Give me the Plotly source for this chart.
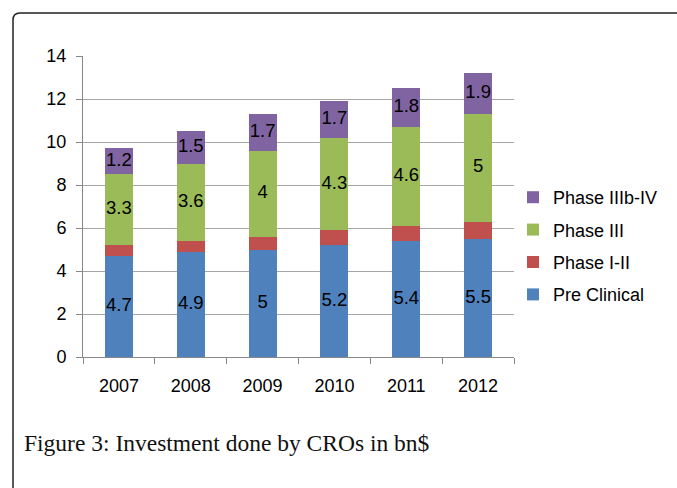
import plotly.graph_objects as go

years = ["2007", "2008", "2009", "2010", "2011", "2012"]
pre_clinical = [4.7, 4.9, 5.0, 5.2, 5.4, 5.5]
phase_1_2 = [0.5, 0.5, 0.6, 0.7, 0.7, 0.8]
phase_3 = [3.3, 3.6, 4.0, 4.3, 4.6, 5.0]
phase_3b_4 = [1.2, 1.5, 1.7, 1.7, 1.8, 1.9]

series = [
    ("Pre Clinical", pre_clinical, "#4F81BD", True),
    ("Phase I-II", phase_1_2, "#C0504D", False),
    ("Phase III", phase_3, "#9BBB59", True),
    ("Phase IIIb-IV", phase_3b_4, "#8064A2", True),
]

FONT = "Liberation Sans, Arial, sans-serif"
fig = go.Figure()
base = [0.0] * len(years)
label_x, label_y, label_t = [], [], []
for i, (name, vals, color, labelled) in enumerate(series):
    fig.add_trace(go.Bar(
        x=years, y=vals, name=name, marker=dict(color=color, line=dict(width=0)),
        legendgroup=f"g{i}", legendrank=len(series) - i,
    ))
    if labelled:
        for j, v in enumerate(vals):
            label_x.append(years[j])
            label_y.append(base[j] + v / 2)
            label_t.append(f"{v:g}")
    base = [b + v for b, v in zip(base, vals)]

fig.add_trace(go.Scatter(
    x=label_x, y=label_y, text=label_t, mode="text", showlegend=False,
    textfont=dict(family=FONT, size=18.5, color="#000000"), hoverinfo="skip",
))

W, H = 677, 488
L, R, T, B = 83, 163, 56, 131
pw, ph = W - L - R, H - T - B

def px(x):
    return (x - L) / pw

def py(y):
    return (H - B - y) / ph

x0, yt = px(13), py(13)
xr, yb = px(700), py(520)
rx, ry = 7 / pw, 7 / ph
frame = (f"M {x0},{yb} L {x0},{yt - ry} Q {x0},{yt} {x0 + rx},{yt} L {xr},{yt}")

fig.update_layout(
    width=W, height=H, barmode="stack", bargap=0.61,
    margin=dict(l=L, r=R, t=T, b=B, pad=0),
    paper_bgcolor="white", plot_bgcolor="white",
    font=dict(family=FONT, size=18, color="#000000"),
    showlegend=True,
    legend=dict(
        traceorder="grouped", tracegroupgap=6,
        x=px(513), xanchor="left", y=py(246), yanchor="middle",
        font=dict(family=FONT, size=18, color="#000000"),
        bgcolor="rgba(0,0,0,0)", itemwidth=30,
    ),
    xaxis=dict(
        type="category", showline=True, linecolor="#888888", linewidth=1,
        ticks="outside", tickson="boundaries", ticklen=6, tickcolor="#888888",
        tickfont=dict(family=FONT, size=18), showgrid=False, ticklabelstandoff=12,
    ),
    yaxis=dict(
        range=[0, 14], dtick=2, showline=True, linecolor="#888888", linewidth=1,
        ticks="outside", ticklen=6, tickcolor="#888888",
        showgrid=True, gridcolor="#A6A6A6", gridwidth=1, zeroline=False,
        tickfont=dict(family=FONT, size=18), ticklabelstandoff=6,
    ),
    shapes=[dict(type="path", xref="paper", yref="paper", path=frame,
                 line=dict(color="#222222", width=1.5), layer="below")],
    annotations=[dict(
        text="Figure 3: Investment done by CROs in bn$", xref="paper", yref="paper",
        x=px(22), y=py(443), xanchor="left", yanchor="middle", showarrow=False,
        font=dict(family="Liberation Serif, Times New Roman, serif", size=23.5, color="#111111"),
    )],
)

fig.write_html("out.html", config={"displayModeBar": False},
               post_script="document.body.style.margin='0';")
